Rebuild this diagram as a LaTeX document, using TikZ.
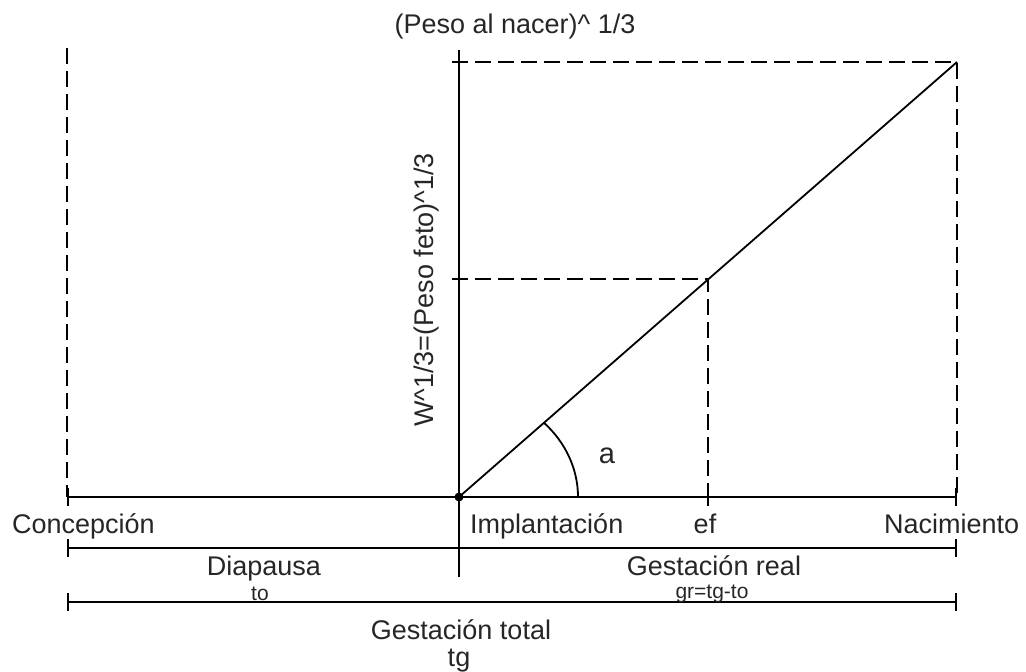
\documentclass[tikz,border=0pt]{standalone}
\usepackage{fontspec}
\setmainfont{Liberation Sans}
\usetikzlibrary{arrows.meta}
\begin{document}
\begin{tikzpicture}[x=1pt,y=-1pt,
  solidline/.style={line width=2.2pt},
  dashline/.style={line width=2.6pt, dash pattern=on 16pt off 7pt},
  diag/.style={line width=1.8pt},
  lbl/.style={font=\fontsize{27}{30}\selectfont, inner sep=0pt, anchor=base, text=black!85},
  sublbl/.style={font=\fontsize{21}{24}\selectfont, inner sep=0pt, anchor=base, text=black!85},
  spanline/.style={line width=2.2pt, {Bar[width=18pt,line width=2.2pt]}-{Bar[width=18pt,line width=2.2pt]}},
]
\useasboundingbox (0,0) rectangle (1026,672);
% key points
\coordinate (O) at (459,497);
\coordinate (C) at (67,497);
\coordinate (N) at (957,497);
\coordinate (EF) at (708,497);
\coordinate (EFa) at (708,488);
\coordinate (EFb) at (708,506);
\coordinate (P) at (708,279);
\coordinate (T) at (957,62);
\coordinate (Ytop) at (459,50);
\coordinate (Ybot) at (459,577);
\coordinate (Ltop) at (67,48);
\coordinate (Ttop) at (452,62);
\coordinate (Pleft) at (452,279);
\coordinate (C2) at (67,548);
\coordinate (N2) at (957,548);
\coordinate (C3) at (67,602);
\coordinate (N3) at (957,602);
\coordinate (A0) at (578,497);
% lines
\draw[spanline] (C) -- (N);
\draw[spanline] (C2) -- (N2);
\draw[spanline] (C3) -- (N3);
\draw[solidline] (Ytop) -- (Ybot);
\draw[solidline] (EFa) -- (EFb);
\draw[dashline] (Ltop) -- (C);
\draw[dashline] (Ttop) -- (T) -- (N);
\draw[dashline] (Pleft) -- (P) -- (EF);
\draw[diag] (O) -- (T);
\draw[diag] (A0) arc[start angle=0, end angle=44.4, x radius=119pt, y radius=106pt];
\fill (O) circle (4.5pt);
% labels
\node[lbl] (peso) at (515,33) {(Peso al nacer)\textasciicircum\ 1/3};
\node[lbl, rotate=90] (wlab) at (433,290) {W\textasciicircum 1/3=(Peso feto)\textasciicircum 1/3};
\node[lbl, font=\fontsize{29}{30}\selectfont] (alab) at (607,463) {a};
\node[lbl, anchor=base west] (conc) at (12,533) {Concepción};
\node[lbl, anchor=base west] (impl) at (470,533) {Implantación};
\node[lbl] (ef) at (705,533) {ef};
\node[lbl, anchor=base west] (nac) at (884,533) {Nacimiento};
\node[lbl] (diap) at (264,575) {Diapausa};
\node[sublbl] (to) at (260,600) {to};
\node[lbl] (greal) at (714,575) {Gestación real};
\node[sublbl] (gr) at (712,598) {gr=tg-to};
\node[lbl] (gtot) at (461,639) {Gestación total};
\node[lbl] (tg) at (459,666) {tg};
\end{tikzpicture}
\end{document}
